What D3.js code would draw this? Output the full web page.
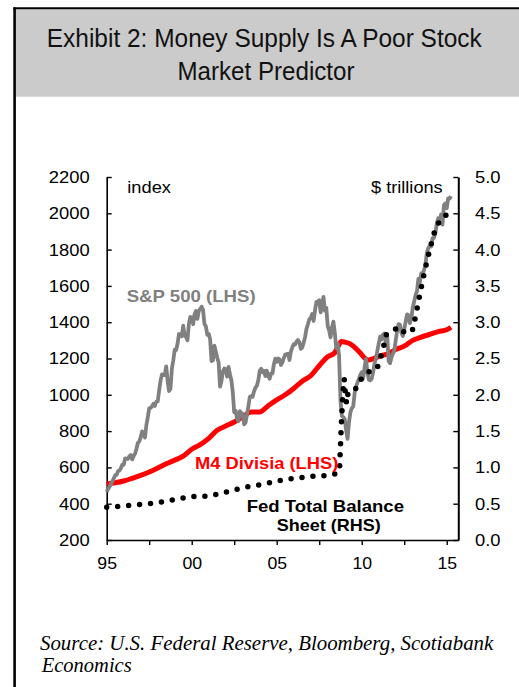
<!DOCTYPE html>
<html>
<head>
<meta charset="utf-8">
<script src="https://cdn.jsdelivr.net/npm/d3@7"></script>
<style>
  html, body { margin: 0; padding: 0; background: #fff; }
  svg { display: block; }
</style>
</head>
<body>
<svg id="chart" width="519" height="687"></svg>
<script>
// ---------------- DATA ----------------
// S&P 500, monthly average, Jan 1995 .. Apr 2015 (LHS)
const spxStart = 1995;
const spxValues = [
  465.3,481.9,493.2,507.9,523.8,539.4,557.4,559.1,578.8,582.9,595.5,614.6,
  614.4,649.5,647.1,647.2,661.2,668.5,644.1,662.7,674.9,701.5,735.7,743.3,
  766.2,798.4,792.2,763.9,833.1,876.3,925.3,927.7,937.0,951.2,938.9,962.4,
  963.4,1023.7,1076.8,1112.2,1108.4,1108.4,1156.6,1074.6,1020.6,1032.5,1144.4,1190.1,
  1248.8,1246.6,1281.7,1334.8,1332.1,1322.6,1380.9,1327.5,1318.2,1300.0,1391.0,1428.7,
  1425.6,1388.9,1442.2,1461.4,1418.5,1462.0,1473.0,1485.5,1468.1,1390.1,1378.0,1330.9,
  1335.6,1305.8,1185.9,1189.8,1270.4,1238.7,1204.5,1178.5,1044.6,1076.6,1129.7,1144.9,
  1140.2,1100.7,1153.8,1112.0,1080.0,1014.0,903.6,912.6,867.8,854.6,909.9,899.2,
  895.8,837.6,846.6,890.0,936.0,988.0,992.5,989.5,1019.4,1038.7,1049.9,1080.6,
  1132.5,1143.4,1124.0,1133.1,1102.8,1132.8,1105.8,1088.9,1117.7,1118.1,1168.9,1199.2,
  1181.4,1199.6,1194.9,1164.4,1178.3,1202.3,1222.2,1224.3,1225.9,1192.0,1237.4,1262.1,
  1278.7,1276.7,1293.7,1302.2,1290.0,1253.1,1260.2,1287.2,1317.8,1363.4,1388.6,1416.4,
  1424.2,1444.8,1406.8,1463.6,1511.1,1514.5,1520.7,1454.6,1497.1,1539.7,1463.4,1479.2,
  1378.8,1354.9,1316.9,1370.5,1403.2,1341.3,1257.3,1281.5,1217.0,968.8,883.0,877.6,
  865.6,805.2,757.1,848.2,902.4,926.1,935.8,1009.7,1044.6,1067.7,1088.1,1110.4,
  1123.6,1089.2,1152.0,1197.3,1125.1,1083.4,1079.8,1087.3,1122.1,1171.6,1198.9,1241.5,
  1282.6,1321.1,1304.5,1331.5,1338.3,1287.3,1325.2,1185.3,1173.9,1207.2,1226.4,1243.3,
  1300.6,1352.5,1389.2,1386.4,1341.3,1323.5,1359.8,1403.4,1443.4,1437.8,1394.5,1422.3,
  1480.4,1512.3,1550.8,1570.7,1639.8,1618.8,1668.7,1670.1,1687.2,1720.0,1783.5,1807.8,
  1822.4,1817.0,1863.5,1864.3,1889.8,1947.1,1973.1,1961.5,1993.2,1937.3,2044.6,2054.3,
  2028.2,2082.2,2080.4,2094.9
];

// M4 Divisia (LHS)
const m4Years = [
  1995.0,1995.5,1996.0,1996.5,1997.0,1997.5,1998.0,1998.5,1999.0,1999.5,
  2000.0,2000.5,2001.0,2001.5,2002.0,2002.5,2003.0,2003.5,2004.0,2004.5,
  2005.0,2005.5,2006.0,2006.5,2007.0,2007.5,2008.0,2008.4,2008.6,2008.8,
  2009.0,2009.3,2009.6,2009.9,2010.2,2010.4,2010.7,2011.0,2011.5,2012.0,
  2012.5,2013.0,2013.5,2014.0,2014.5,2015.0,2015.25
];
const m4Values = [
  508,515,525,540,556,575,597,620,640,662,
  700,725,760,805,828,850,878,905,905,940,
  972,1000,1035,1075,1105,1160,1210,1230,1265,1293,
  1290,1282,1260,1232,1200,1192,1200,1212,1225,1250,
  1268,1300,1318,1333,1348,1358,1372
];

// Fed total balance sheet, $ trillions (RHS)
const fedYears = [
  1995.0,1996.0,1997.0,1998.0,1999.0,2000.0,2000.7,2001.5,2002.0,2003.0,
  2004.0,2005.0,2006.0,2007.0,2008.0,2008.6,2008.7,2008.8,2008.9,2008.97,
  2009.05,2009.12,2009.2,2009.4,2009.6,2009.75,2010.0,2010.5,2010.9,2011.1,
  2011.3,2011.45,2011.75,2012.15,2012.6,2013.0,2013.2,2013.45,2013.7,2014.0,
  2014.32,2014.67,2015.0,2015.2
];
const fedValues = [
  0.45,0.47,0.49,0.515,0.555,0.60,0.60,0.63,0.66,0.72,
  0.76,0.81,0.85,0.875,0.89,0.92,1.0,1.6,2.05,2.22,
  1.95,1.88,2.04,2.05,2.08,2.10,2.23,2.33,2.36,2.50,
  2.68,2.83,2.86,2.94,2.84,2.90,3.12,3.42,3.70,4.00,
  4.28,4.43,4.48,4.49
];

const leftTicks  = [200,400,600,800,1000,1200,1400,1600,1800,2000,2200];
const rightTicks = [0,0.5,1.0,1.5,2.0,2.5,3.0,3.5,4.0,4.5,5.0];
const xTicks     = [1995,1997.5,2000,2002.5,2005,2007.5,2010,2012.5,2015];
const xTickLabels = ["95","","00","","05","","10","","15"];

const titleLines  = ["Exhibit 2: Money Supply Is A Poor Stock", "Market Predictor"];
const sourceLines = ["Source: U.S. Federal Reserve, Bloomberg, Scotiabank", "Economics"];

// ---------------- DRAW ----------------
const svg = d3.select("#chart");
const SANS = "'Liberation Sans', Arial, Helvetica, sans-serif";

// frame + header
svg.append("rect").attr("x", 16).attr("y", 9.3).attr("width", 503).attr("height", 87.4)
  .attr("fill", "#cbcbcb");
svg.append("line").attr("x1", 14.6).attr("x2", 14.6).attr("y1", 7.5).attr("y2", 687)
  .attr("stroke", "#000").attr("stroke-width", 2.6);
svg.append("line").attr("x1", 13.3).attr("x2", 519).attr("y1", 8.3).attr("y2", 8.3)
  .attr("stroke", "#000").attr("stroke-width", 2);

const titleFont = "'Liberation Sans Narrow', 'Arial Narrow', 'Liberation Sans', Arial, sans-serif";
svg.append("text").attr("x", 264.3).attr("y", 46.7).attr("text-anchor", "middle")
  .attr("font-family", titleFont).attr("font-size", 25.6).attr("fill", "#111")
  .attr("textLength", 435).attr("lengthAdjust", "spacingAndGlyphs").text(titleLines[0]);
svg.append("text").attr("x", 266).attr("y", 80).attr("text-anchor", "middle")
  .attr("font-family", titleFont).attr("font-size", 25.6).attr("fill", "#111")
  .attr("textLength", 177).attr("lengthAdjust", "spacingAndGlyphs").text(titleLines[1]);

// scales
const x  = d3.scaleLinear().domain([1995, 2015.68]).range([106.7, 458.3]);
const yL = d3.scaleLinear().domain([200, 2200]).range([540, 177]);
const yR = d3.scaleLinear().domain([0, 5]).range([540, 177]);

// axes
const axL = svg.append("g").attr("transform", "translate(106.7,0)")
  .call(d3.axisLeft(yL).tickValues(leftTicks).tickSizeInner(-5).tickSizeOuter(0).tickPadding(17)
    .tickFormat(d3.format("d")));
const axR = svg.append("g").attr("transform", "translate(458.3,0)")
  .call(d3.axisRight(yR).tickValues(rightTicks).tickSizeInner(-5).tickSizeOuter(0).tickPadding(16.7)
    .tickFormat(d3.format(".1f")));
const axB = svg.append("g").attr("transform", "translate(0,540)")
  .call(d3.axisBottom(x).tickValues(xTicks).tickSizeInner(5).tickSizeOuter(0).tickPadding(12)
    .tickFormat((d, i) => xTickLabels[i]));

[[axL, 1.08], [axR, 1.08], [axB, 1.04]].forEach(([g, stretch]) => {
  g.selectAll("text").attr("font-family", SANS).attr("font-size", 17).attr("fill", "#000")
    .each(function () {
      const w = this.getComputedTextLength();
      if (w > 0) d3.select(this).attr("textLength", w * stretch).attr("lengthAdjust", "spacingAndGlyphs");
    });
  g.selectAll("line").attr("stroke", "#000").attr("stroke-width", 1.4);
  g.select(".domain").attr("stroke", "#000").attr("stroke-width", 1.6);
});
axR.select(".domain").attr("stroke-width", 2);

// series
const m4Data  = m4Years.map((yr, i) => [yr, m4Values[i]]);
const fedData = fedYears.map((yr, i) => [yr, fedValues[i]]);
const spxData = spxValues.map((v, i) => [spxStart + i / 12, v]);

svg.append("path").datum(m4Data)
  .attr("d", d3.line().x(d => x(d[0])).y(d => yL(d[1])).curve(d3.curveMonotoneX))
  .attr("fill", "none").attr("stroke", "#ff0000").attr("stroke-width", 5)
  .attr("stroke-linejoin", "round");

svg.append("path").datum(spxData)
  .attr("d", d3.line().x(d => x(d[0])).y(d => yL(d[1])))
  .attr("fill", "none").attr("stroke", "#808080").attr("stroke-width", 3.8)
  .attr("stroke-linejoin", "round");

svg.append("path").datum(fedData)
  .attr("d", d3.line().x(d => x(d[0])).y(d => yR(d[1])))
  .attr("fill", "none").attr("stroke", "#000").attr("stroke-width", 5.5)
  .attr("stroke-linecap", "round").attr("stroke-dasharray", "0 11");

// labels
function label(txt, xPos, yPos, opts) {
  const t = svg.append("text").attr("x", xPos).attr("y", yPos)
    .attr("font-family", opts.family || SANS).attr("font-size", opts.size || 17)
    .attr("font-weight", opts.weight || "normal").attr("fill", opts.fill || "#000")
    .attr("text-anchor", opts.anchor || "start").text(txt);
  if (opts.style) t.attr("font-style", opts.style);
  if (opts.len) t.attr("textLength", opts.len).attr("lengthAdjust", "spacingAndGlyphs");
  return t;
}
label("index", 127.3, 193.3, { len: 43.7 });
label("$ trillions", 371, 193.3, { len: 71.7 });
label("S&P 500 (LHS)", 126.7, 302, { weight: "bold", fill: "#808080", len: 129 });
label("M4 Divisia (LHS)", 195, 469.3, { weight: "bold", fill: "#ff0000", len: 143.3 });
label("Fed Total Balance", 246.7, 511.7, { weight: "bold", len: 157.3 });
label("Sheet (RHS)", 276.7, 530.7, { weight: "bold", len: 104 });

const SERIF = "'Liberation Serif', 'Times New Roman', Times, serif";
label(sourceLines[0], 40, 650, { family: SERIF, size: 20, style: "italic", len: 453.3 });
label(sourceLines[1], 41.7, 671.5, { family: SERIF, size: 20, style: "italic", len: 90 });
</script>
</body>
</html>
